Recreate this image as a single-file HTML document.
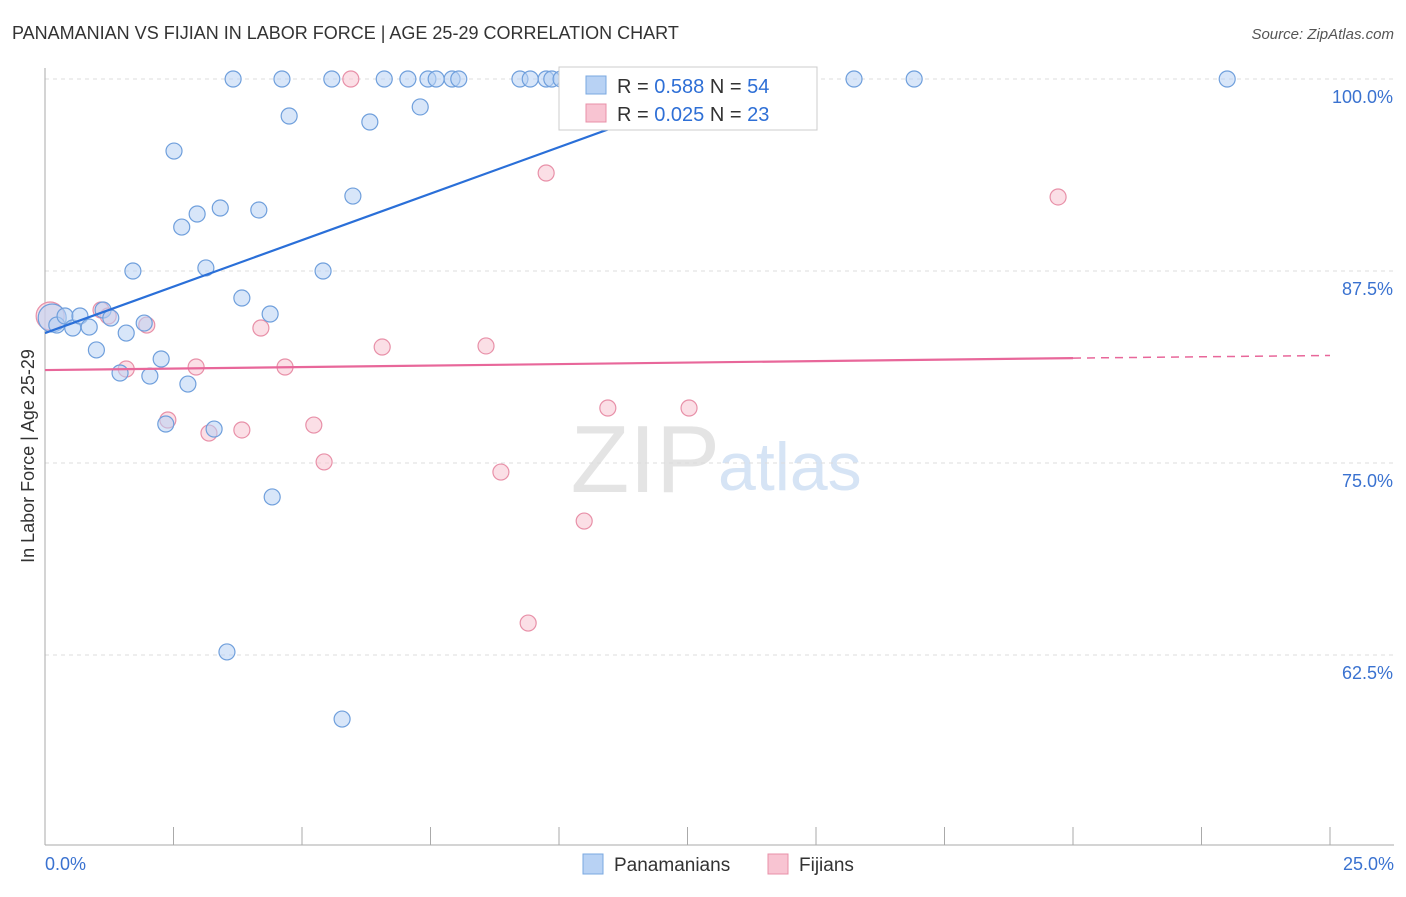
<!DOCTYPE html>
<html><head><meta charset="utf-8"><style>
body{margin:0;background:#fff;font-family:"Liberation Sans",sans-serif}
svg text{font-family:"Liberation Sans",sans-serif}
</style></head><body>
<svg id="chart" width="1406" height="892">
<text x="12" y="39" font-size="18" fill="#333">PANAMANIAN VS FIJIAN IN LABOR FORCE | AGE 25-29 CORRELATION CHART</text>
<text x="1394" y="39" font-size="15" fill="#555" font-style="italic" text-anchor="end">Source: ZipAtlas.com</text>
<text x="720" y="492" font-size="96" fill="#e4e4e4" text-anchor="end" font-family="Liberation Serif">ZIP</text>
<text x="718" y="490" font-size="68" fill="#d6e4f5">atlas</text>
<g id="grid"></g>
<g id="axes"></g>
<g id="marks"></g>
<text transform="translate(34,456) rotate(-90)" font-size="18" fill="#333" text-anchor="middle">In Labor Force | Age 25-29</text>
<g>
<rect x="559" y="67" width="258" height="63" fill="#fff" stroke="#ccc"/>
<rect x="586" y="76" width="20" height="18" fill="#b8d2f4" stroke="#7aa8e0"/>
<rect x="586" y="104" width="20" height="18" fill="#f8c4d2" stroke="#e890a8"/>
<text x="617" y="93" font-size="20" fill="#333">R = <tspan fill="#2e6fd6">0.588</tspan>   N = <tspan fill="#2e6fd6">54</tspan></text>
<text x="617" y="121" font-size="20" fill="#333">R = <tspan fill="#2e6fd6">0.025</tspan>   N = <tspan fill="#2e6fd6">23</tspan></text>
</g>
<g>
<rect x="583" y="854" width="20" height="20" fill="#b8d2f4" stroke="#7aa8e0"/>
<text x="614" y="871" font-size="19" fill="#333">Panamanians</text>
<rect x="768" y="854" width="20" height="20" fill="#f8c4d2" stroke="#e890a8"/>
<text x="799" y="871" font-size="19" fill="#333">Fijians</text>
</g>
</svg>
<script>
const yTicks=[100,87.5,75,62.5];
const yTickLabels=["100.0%","87.5%","75.0%","62.5%"];
const xEnds=[0,25];
const xEndLabels=["0.0%","25.0%"];
const blueX=[0.14,0.23,0.39,0.54,0.68,0.86,1.00,1.13,1.28,1.46,1.58,1.71,1.93,2.04,2.26,2.35,2.51,2.66,2.78,2.96,3.13,3.29,3.41,3.54,3.66,3.83,4.16,4.38,4.42,4.61,4.75,5.41,5.58,5.78,5.99,6.32,6.6,7.06,7.3,7.45,7.61,7.92,8.05,9.24,9.44,9.75,9.86,10.04,11.58,12.59,13.58,15.74,16.91,23.0];
const blueY=[84.44,83.98,84.57,83.79,84.57,83.85,82.36,84.96,84.44,80.86,83.46,87.5,84.11,80.66,81.77,77.54,95.31,90.36,80.14,91.21,87.7,77.21,91.6,62.7,100,85.74,91.47,84.7,72.79,100,97.59,87.5,100,58.33,92.38,97.2,100,100,98.18,100,100,100,100,100,100,100,100,100,100,100,100,100,100,100];
const pinkX=[0.1,1.09,1.23,1.58,1.98,2.39,2.94,3.19,3.83,4.2,4.67,5.23,5.43,5.95,6.56,8.58,8.87,9.75,10.49,9.4,10.95,12.53,19.71];
const pinkY=[84.57,84.96,84.57,81.12,83.98,77.8,81.25,76.95,77.15,83.79,81.25,77.47,75.07,100,82.55,82.62,74.41,93.88,71.22,64.58,78.58,78.58,92.32];
const blueTrend=[[0,83.46],[13.75,100.1]];
const pinkTrend=[[0,81.05],[20,81.83]];
const pinkTrendDash=[[20,81.83],[25,82.0]];
const NS="http://www.w3.org/2000/svg";
const X=v=>45+v/25*1285;
const Y=v=>79+(100-v)/12.5*192;
function mk(tag,attrs,parent){const e=document.createElementNS(NS,tag);for(const k in attrs)e.setAttribute(k,attrs[k]);document.getElementById(parent).appendChild(e);return e;}
yTicks.forEach((t,i)=>{
 const l=mk('line',{x1:45,x2:1394,y1:Y(t),y2:Y(t),stroke:'#ddd','stroke-dasharray':'4,4'},'grid');
 
 
 const tx=mk('text',{x:1393,y:Y(t)+24,'font-size':18,fill:'#3a72d0','text-anchor':'end'},'axes');
 tx.textContent=yTickLabels[i];
 
 
});
const ax=mk('line',{x1:45,x2:1394,y1:845,y2:845,stroke:'#aaa'},'axes');


const ay=mk('line',{x1:45,x2:45,y1:68,y2:845,stroke:'#aaa'},'axes');


for(let i=1;i<=10;i++){
 const t=mk('line',{x1:X(i*2.5),x2:X(i*2.5),y1:827,y2:845,stroke:'#aaa'},'axes');
 
 
}
xEnds.forEach((v,i)=>{
 const t=mk('text',{x:i==0?X(v):X(v)+64,y:870,'font-size':18,fill:'#3a72d0','text-anchor':i==0?'start':'end'},'axes');
 t.textContent=xEndLabels[i];
 
 
});
function dots(xs,ys,fill,stroke,name){
 xs.forEach((x,i)=>{
  const c=mk('circle',{cx:X(x),cy:Y(ys[i]),r:i==0?14:8,fill:fill,'fill-opacity':0.55,stroke:stroke,'stroke-width':1.2},'marks');
  
  
 });
}
dots(pinkX,pinkY,'#f8c4d2','#e890a8','fijian-point');
dots(blueX,blueY,'#b8d2f4','#6f9fdc','panamanian-point');
const bl=mk('line',{x1:X(blueTrend[0][0]),y1:Y(blueTrend[0][1]),x2:X(blueTrend[1][0]),y2:Y(blueTrend[1][1]),stroke:'#2a6fd8','stroke-width':2.2},'marks');


const pl=mk('line',{x1:X(pinkTrend[0][0]),y1:Y(pinkTrend[0][1]),x2:X(pinkTrend[1][0]),y2:Y(pinkTrend[1][1]),stroke:'#e8679a','stroke-width':2.2},'marks');


const pd=mk('line',{x1:X(pinkTrendDash[0][0]),y1:Y(pinkTrendDash[0][1]),x2:X(pinkTrendDash[1][0]),y2:Y(pinkTrendDash[1][1]),stroke:'#e8679a','stroke-width':1.5,'stroke-dasharray':'8,6'},'marks');


</script>
</body></html>
